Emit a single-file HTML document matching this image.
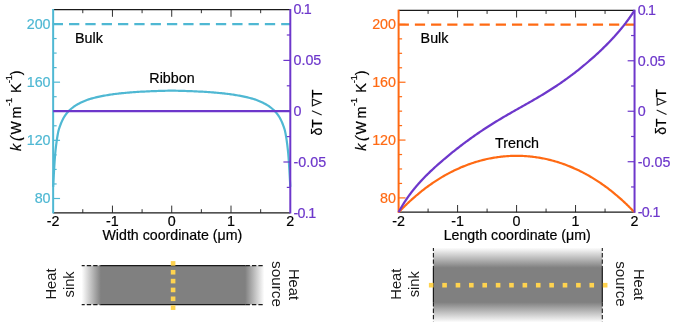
<!DOCTYPE html>
<html><head><meta charset="utf-8"><title>Figure</title>
<style>
html,body{margin:0;padding:0;background:#fff;}
body{width:677px;height:327px;overflow:hidden;}
svg{display:block;will-change:transform;font-family:"Liberation Sans",sans-serif;}
text{stroke-width:0.2px;}
</style></head><body>
<svg width="677" height="327" viewBox="0 0 677 327">
<rect width="677" height="327" fill="#fff"/>
<defs><linearGradient id="gh" x1="0" x2="1" y1="0" y2="0"><stop offset="0" stop-color="#fff"/><stop offset="0.105" stop-color="#808080"/><stop offset="0.895" stop-color="#808080"/><stop offset="1" stop-color="#fff"/></linearGradient><linearGradient id="gv" x1="0" x2="0" y1="0" y2="1"><stop offset="0" stop-color="#fff"/><stop offset="0.27" stop-color="#808080"/><stop offset="0.73" stop-color="#808080"/><stop offset="1" stop-color="#fff"/></linearGradient></defs>
<rect x="81.7" y="265.6" width="182.6" height="39" fill="url(#gh)"/>
<line x1="100.6" y1="265.6" x2="245.6" y2="265.6" stroke="#1a1a1a" stroke-width="1.2"/>
<line x1="81.7" y1="265.6" x2="100.6" y2="265.6" stroke="#1a1a1a" stroke-width="1.1" stroke-dasharray="4.3 2.1" stroke-dashoffset="1.3"/>
<line x1="245.6" y1="265.6" x2="264.6" y2="265.6" stroke="#1a1a1a" stroke-width="1.1" stroke-dasharray="4.3 2.1"/>
<line x1="100.6" y1="304.6" x2="245.6" y2="304.6" stroke="#1a1a1a" stroke-width="1.2"/>
<line x1="81.7" y1="304.6" x2="100.6" y2="304.6" stroke="#1a1a1a" stroke-width="1.1" stroke-dasharray="4.3 2.1" stroke-dashoffset="1.3"/>
<line x1="245.6" y1="304.6" x2="264.6" y2="304.6" stroke="#1a1a1a" stroke-width="1.1" stroke-dasharray="4.3 2.1"/>
<rect x="170.8" y="261.10" width="4.6" height="4.6" fill="#ffd34f"/>
<rect x="170.8" y="269.95" width="4.6" height="4.6" fill="#ffd34f"/>
<rect x="170.8" y="278.80" width="4.6" height="4.6" fill="#ffd34f"/>
<rect x="170.8" y="287.65" width="4.6" height="4.6" fill="#ffd34f"/>
<rect x="170.8" y="296.50" width="4.6" height="4.6" fill="#ffd34f"/>
<rect x="170.8" y="305.35" width="4.6" height="4.6" fill="#ffd34f"/>
<rect x="433.4" y="247.5" width="168.9" height="75" fill="url(#gv)"/>
<line x1="433.4" y1="268.1" x2="433.4" y2="302.2" stroke="#1a1a1a" stroke-width="1.2"/>
<line x1="433.4" y1="248" x2="433.4" y2="268.1" stroke="#1a1a1a" stroke-width="1.1" stroke-dasharray="4.3 2.1" stroke-dashoffset="1.3"/>
<line x1="433.4" y1="302.2" x2="433.4" y2="321.8" stroke="#1a1a1a" stroke-width="1.1" stroke-dasharray="4.3 2.1"/>
<line x1="602.3" y1="268.1" x2="602.3" y2="302.2" stroke="#1a1a1a" stroke-width="1.2"/>
<line x1="602.3" y1="248" x2="602.3" y2="268.1" stroke="#1a1a1a" stroke-width="1.1" stroke-dasharray="4.3 2.1" stroke-dashoffset="1.3"/>
<line x1="602.3" y1="302.2" x2="602.3" y2="321.8" stroke="#1a1a1a" stroke-width="1.1" stroke-dasharray="4.3 2.1"/>
<rect x="428.90" y="282.9" width="4.6" height="4.6" fill="#ffd34f"/>
<rect x="442.28" y="282.9" width="4.6" height="4.6" fill="#ffd34f"/>
<rect x="455.66" y="282.9" width="4.6" height="4.6" fill="#ffd34f"/>
<rect x="469.04" y="282.9" width="4.6" height="4.6" fill="#ffd34f"/>
<rect x="482.42" y="282.9" width="4.6" height="4.6" fill="#ffd34f"/>
<rect x="495.80" y="282.9" width="4.6" height="4.6" fill="#ffd34f"/>
<rect x="509.18" y="282.9" width="4.6" height="4.6" fill="#ffd34f"/>
<rect x="522.56" y="282.9" width="4.6" height="4.6" fill="#ffd34f"/>
<rect x="535.94" y="282.9" width="4.6" height="4.6" fill="#ffd34f"/>
<rect x="549.32" y="282.9" width="4.6" height="4.6" fill="#ffd34f"/>
<rect x="562.70" y="282.9" width="4.6" height="4.6" fill="#ffd34f"/>
<rect x="576.08" y="282.9" width="4.6" height="4.6" fill="#ffd34f"/>
<rect x="589.46" y="282.9" width="4.6" height="4.6" fill="#ffd34f"/>
<rect x="602.84" y="282.9" width="4.6" height="4.6" fill="#ffd34f"/>
<text transform="translate(56.0,284) rotate(-90)" text-anchor="middle" fill="#1a1a1a" font-size="14" textLength="31" lengthAdjust="spacingAndGlyphs">Heat</text>
<text transform="translate(73.6,284.4) rotate(-90)" text-anchor="middle" fill="#1a1a1a" font-size="14" textLength="26" lengthAdjust="spacingAndGlyphs">sink</text>
<text transform="translate(272.2,284) rotate(90)" text-anchor="middle" fill="#1a1a1a" font-size="14" textLength="46" lengthAdjust="spacingAndGlyphs">source</text>
<text transform="translate(288.6,284.5) rotate(90)" text-anchor="middle" fill="#1a1a1a" font-size="14" textLength="31" lengthAdjust="spacingAndGlyphs">Heat</text>
<text transform="translate(401.2,284.2) rotate(-90)" text-anchor="middle" fill="#1a1a1a" font-size="14" textLength="31" lengthAdjust="spacingAndGlyphs">Heat</text>
<text transform="translate(418.8,284.3) rotate(-90)" text-anchor="middle" fill="#1a1a1a" font-size="14" textLength="26" lengthAdjust="spacingAndGlyphs">sink</text>
<text transform="translate(616.2,284) rotate(90)" text-anchor="middle" fill="#1a1a1a" font-size="14" textLength="45.4" lengthAdjust="spacingAndGlyphs">source</text>
<text transform="translate(634.2,284.5) rotate(90)" text-anchor="middle" fill="#1a1a1a" font-size="14" textLength="31" lengthAdjust="spacingAndGlyphs">Heat</text>
<line x1="53.15" y1="9.6" x2="290.3" y2="9.6" stroke="#1a1a1a" stroke-width="1.3"/>
<line x1="53.15" y1="212.8" x2="290.3" y2="212.8" stroke="#1a1a1a" stroke-width="1.3"/>
<line x1="82.79" y1="9.6" x2="82.79" y2="13.2" stroke="#1a1a1a" stroke-width="0.9"/>
<line x1="82.79" y1="212.8" x2="82.79" y2="209.20000000000002" stroke="#1a1a1a" stroke-width="0.9"/>
<line x1="112.44" y1="9.6" x2="112.44" y2="16.8" stroke="#1a1a1a" stroke-width="0.9"/>
<line x1="112.44" y1="212.8" x2="112.44" y2="205.60000000000002" stroke="#1a1a1a" stroke-width="0.9"/>
<line x1="142.08" y1="9.6" x2="142.08" y2="13.2" stroke="#1a1a1a" stroke-width="0.9"/>
<line x1="142.08" y1="212.8" x2="142.08" y2="209.20000000000002" stroke="#1a1a1a" stroke-width="0.9"/>
<line x1="171.72" y1="9.6" x2="171.72" y2="16.8" stroke="#1a1a1a" stroke-width="0.9"/>
<line x1="171.72" y1="212.8" x2="171.72" y2="205.60000000000002" stroke="#1a1a1a" stroke-width="0.9"/>
<line x1="201.37" y1="9.6" x2="201.37" y2="13.2" stroke="#1a1a1a" stroke-width="0.9"/>
<line x1="201.37" y1="212.8" x2="201.37" y2="209.20000000000002" stroke="#1a1a1a" stroke-width="0.9"/>
<line x1="231.01" y1="9.6" x2="231.01" y2="16.8" stroke="#1a1a1a" stroke-width="0.9"/>
<line x1="231.01" y1="212.8" x2="231.01" y2="205.60000000000002" stroke="#1a1a1a" stroke-width="0.9"/>
<line x1="260.66" y1="9.6" x2="260.66" y2="13.2" stroke="#1a1a1a" stroke-width="0.9"/>
<line x1="260.66" y1="212.8" x2="260.66" y2="209.20000000000002" stroke="#1a1a1a" stroke-width="0.9"/>
<line x1="53.15" y1="9.0" x2="53.15" y2="213.4" stroke="#4fb8d3" stroke-width="2"/>
<line x1="53.15" y1="198.50" x2="60.05" y2="198.50" stroke="#4fb8d3" stroke-width="1.2"/>
<line x1="53.15" y1="183.96" x2="56.65" y2="183.96" stroke="#4fb8d3" stroke-width="1.2"/>
<line x1="53.15" y1="169.42" x2="56.65" y2="169.42" stroke="#4fb8d3" stroke-width="1.2"/>
<line x1="53.15" y1="154.88" x2="56.65" y2="154.88" stroke="#4fb8d3" stroke-width="1.2"/>
<line x1="53.15" y1="140.33" x2="60.05" y2="140.33" stroke="#4fb8d3" stroke-width="1.2"/>
<line x1="53.15" y1="125.79" x2="56.65" y2="125.79" stroke="#4fb8d3" stroke-width="1.2"/>
<line x1="53.15" y1="111.25" x2="56.65" y2="111.25" stroke="#4fb8d3" stroke-width="1.2"/>
<line x1="53.15" y1="96.71" x2="56.65" y2="96.71" stroke="#4fb8d3" stroke-width="1.2"/>
<line x1="53.15" y1="82.17" x2="60.05" y2="82.17" stroke="#4fb8d3" stroke-width="1.2"/>
<line x1="53.15" y1="67.62" x2="56.65" y2="67.62" stroke="#4fb8d3" stroke-width="1.2"/>
<line x1="53.15" y1="53.08" x2="56.65" y2="53.08" stroke="#4fb8d3" stroke-width="1.2"/>
<line x1="53.15" y1="38.54" x2="56.65" y2="38.54" stroke="#4fb8d3" stroke-width="1.2"/>
<line x1="53.15" y1="24.00" x2="60.05" y2="24.00" stroke="#4fb8d3" stroke-width="1.2"/>
<line x1="52.699999999999996" y1="24.15" x2="290.3" y2="24.15" stroke="#4fb8d3" stroke-width="2.35" stroke-dasharray="10.3 6.02"/>
<polyline points="53.15,186.87 53.45,181.28 53.74,175.85 54.04,170.64 54.34,165.73 54.63,161.19 54.93,157.09 55.23,153.50 55.52,150.51 55.82,147.91 56.11,145.44 56.41,143.11 56.71,140.92 57.00,138.87 57.30,136.97 57.60,135.21 57.89,133.60 58.19,132.15 58.49,130.84 58.78,129.69 59.08,128.70 59.38,127.80 59.67,126.93 59.97,126.10 60.26,125.29 60.56,124.51 60.86,123.75 61.15,123.02 61.45,122.32 61.75,121.65 62.04,120.99 62.34,120.37 62.64,119.76 62.93,119.18 63.23,118.61 63.53,118.07 63.82,117.55 64.12,117.05 64.41,116.56 64.71,116.09 65.01,115.64 65.30,115.21 65.60,114.79 65.90,114.38 66.19,113.99 66.49,113.61 66.79,113.24 67.08,112.89 67.38,112.54 67.68,112.21 67.97,111.88 68.27,111.56 68.56,111.25 68.86,110.95 69.16,110.65 69.45,110.36 69.75,110.07 70.05,109.79 70.34,109.52 70.64,109.25 70.94,108.99 71.23,108.73 71.53,108.48 71.83,108.23 72.12,107.99 72.42,107.75 72.71,107.52 73.01,107.29 73.31,107.07 73.60,106.85 73.90,106.64 74.20,106.43 74.49,106.22 74.79,106.02 75.09,105.82 75.38,105.63 75.68,105.44 75.98,105.25 76.27,105.07 76.57,104.89 76.86,104.71 78.05,104.04 79.24,103.41 80.42,102.81 81.61,102.25 82.79,101.71 83.98,101.19 85.17,100.71 86.35,100.24 87.54,99.81 88.72,99.40 89.91,99.02 91.09,98.66 92.28,98.32 93.47,98.02 94.65,97.73 95.84,97.44 97.02,97.17 98.21,96.90 99.39,96.64 100.58,96.39 101.77,96.15 102.95,95.92 104.14,95.69 105.32,95.47 106.51,95.26 107.69,95.06 108.88,94.87 110.07,94.68 111.25,94.50 112.44,94.33 113.62,94.17 114.81,94.01 115.99,93.86 117.18,93.72 118.37,93.59 119.55,93.46 120.74,93.33 121.92,93.21 123.11,93.09 124.29,92.97 125.48,92.85 126.67,92.74 127.85,92.64 129.04,92.53 130.22,92.43 131.41,92.34 132.60,92.24 133.78,92.16 134.97,92.07 136.15,91.99 137.34,91.91 138.52,91.84 139.71,91.77 140.90,91.71 142.08,91.65 143.27,91.59 144.45,91.54 145.64,91.48 146.82,91.43 148.01,91.37 149.20,91.32 150.38,91.27 151.57,91.22 152.75,91.17 153.94,91.12 155.12,91.07 156.31,91.03 157.50,90.99 158.68,90.95 159.87,90.91 161.05,90.87 162.24,90.84 163.42,90.81 164.61,90.78 165.80,90.75 166.98,90.73 168.17,90.71 169.35,90.70 170.54,90.68 171.72,90.67 172.91,90.68 174.10,90.70 175.28,90.71 176.47,90.73 177.65,90.75 178.84,90.78 180.03,90.81 181.21,90.84 182.40,90.87 183.58,90.91 184.77,90.95 185.95,90.99 187.14,91.03 188.33,91.07 189.51,91.12 190.70,91.17 191.88,91.22 193.07,91.27 194.25,91.32 195.44,91.37 196.63,91.43 197.81,91.48 199.00,91.54 200.18,91.59 201.37,91.65 202.55,91.71 203.74,91.77 204.93,91.84 206.11,91.91 207.30,91.99 208.48,92.07 209.67,92.16 210.85,92.24 212.04,92.34 213.23,92.43 214.41,92.53 215.60,92.64 216.78,92.74 217.97,92.85 219.16,92.97 220.34,93.09 221.53,93.21 222.71,93.33 223.90,93.46 225.08,93.59 226.27,93.72 227.46,93.86 228.64,94.01 229.83,94.17 231.01,94.33 232.20,94.50 233.38,94.68 234.57,94.87 235.76,95.06 236.94,95.26 238.13,95.47 239.31,95.69 240.50,95.92 241.68,96.15 242.87,96.39 244.06,96.64 245.24,96.90 246.43,97.17 247.61,97.44 248.80,97.73 249.98,98.02 251.17,98.32 252.36,98.66 253.54,99.02 254.73,99.40 255.91,99.81 257.10,100.24 258.28,100.71 259.47,101.19 260.66,101.71 261.84,102.25 263.03,102.81 264.21,103.41 265.40,104.04 266.58,104.71 266.88,104.89 267.18,105.07 267.47,105.25 267.77,105.44 268.07,105.63 268.36,105.82 268.66,106.02 268.96,106.22 269.25,106.43 269.55,106.64 269.85,106.85 270.14,107.07 270.44,107.29 270.74,107.52 271.03,107.75 271.33,107.99 271.62,108.23 271.92,108.48 272.22,108.73 272.51,108.99 272.81,109.25 273.11,109.52 273.40,109.79 273.70,110.07 274.00,110.36 274.29,110.65 274.59,110.95 274.89,111.25 275.18,111.56 275.48,111.88 275.77,112.21 276.07,112.54 276.37,112.89 276.66,113.24 276.96,113.61 277.26,113.99 277.55,114.38 277.85,114.79 278.15,115.21 278.44,115.64 278.74,116.09 279.04,116.56 279.33,117.05 279.63,117.55 279.92,118.07 280.22,118.61 280.52,119.18 280.81,119.76 281.11,120.37 281.41,120.99 281.70,121.65 282.00,122.32 282.30,123.02 282.59,123.75 282.89,124.51 283.19,125.29 283.48,126.10 283.78,126.93 284.07,127.80 284.37,128.70 284.67,129.69 284.96,130.84 285.26,132.15 285.56,133.60 285.85,135.21 286.15,136.97 286.45,138.87 286.74,140.92 287.04,143.11 287.34,145.44 287.63,147.91 287.93,150.51 288.22,153.50 288.52,157.09 288.82,161.19 289.11,165.73 289.41,170.64 289.71,175.85 290.00,181.28 290.30,186.87" fill="none" stroke="#4fb8d3" stroke-width="2.2" stroke-linejoin="round"/>
<line x1="53.15" y1="111.2" x2="290.3" y2="111.2" stroke="#6d37cb" stroke-width="2.3"/>
<line x1="290.3" y1="9.0" x2="290.3" y2="213.4" stroke="#6d37cb" stroke-width="2"/>
<line x1="290.3" y1="187.40" x2="286.8" y2="187.40" stroke="#6d37cb" stroke-width="1.2"/>
<line x1="290.3" y1="162.00" x2="283.40000000000003" y2="162.00" stroke="#6d37cb" stroke-width="1.2"/>
<line x1="290.3" y1="136.60" x2="286.8" y2="136.60" stroke="#6d37cb" stroke-width="1.2"/>
<line x1="290.3" y1="111.20" x2="283.40000000000003" y2="111.20" stroke="#6d37cb" stroke-width="1.2"/>
<line x1="290.3" y1="85.80" x2="286.8" y2="85.80" stroke="#6d37cb" stroke-width="1.2"/>
<line x1="290.3" y1="60.40" x2="283.40000000000003" y2="60.40" stroke="#6d37cb" stroke-width="1.2"/>
<line x1="290.3" y1="35.00" x2="286.8" y2="35.00" stroke="#6d37cb" stroke-width="1.2"/>
<text x="50.55" y="203.30" text-anchor="end" fill="#4fb8d3" stroke="#4fb8d3" font-size="14.3">80</text>
<text x="50.55" y="145.13" text-anchor="end" fill="#4fb8d3" stroke="#4fb8d3" font-size="14.3">120</text>
<text x="50.55" y="86.97" text-anchor="end" fill="#4fb8d3" stroke="#4fb8d3" font-size="14.3">160</text>
<text x="50.55" y="28.80" text-anchor="end" fill="#4fb8d3" stroke="#4fb8d3" font-size="14.3">200</text>
<text x="293.5" y="14.40" fill="#6d37cb" stroke="#6d37cb" font-size="14.3" textLength="18.1">0.1</text>
<text x="293.5" y="65.20" fill="#6d37cb" stroke="#6d37cb" font-size="14.3">0.05</text>
<text x="293.5" y="116.00" fill="#6d37cb" stroke="#6d37cb" font-size="14.3">0</text>
<text x="293.5" y="166.80" fill="#6d37cb" stroke="#6d37cb" font-size="14.3">-0.05</text>
<text x="293.5" y="217.60" fill="#6d37cb" stroke="#6d37cb" font-size="14.3" textLength="22.6">-0.1</text>
<text x="53.15" y="226.3" text-anchor="middle" fill="#000" stroke="#000" font-size="14.3">-2</text>
<text x="112.44" y="226.3" text-anchor="middle" fill="#000" stroke="#000" font-size="14.3">-1</text>
<text x="171.72" y="226.3" text-anchor="middle" fill="#000" stroke="#000" font-size="14.3">0</text>
<text x="231.01" y="226.3" text-anchor="middle" fill="#000" stroke="#000" font-size="14.3">1</text>
<text x="290.30" y="226.3" text-anchor="middle" fill="#000" stroke="#000" font-size="14.3">2</text>
<line x1="398.6" y1="10.3" x2="634.55" y2="10.3" stroke="#1a1a1a" stroke-width="1.3"/>
<line x1="398.6" y1="212.2" x2="634.55" y2="212.2" stroke="#1a1a1a" stroke-width="1.3"/>
<line x1="428.09" y1="10.3" x2="428.09" y2="13.9" stroke="#1a1a1a" stroke-width="0.9"/>
<line x1="428.09" y1="212.2" x2="428.09" y2="208.6" stroke="#1a1a1a" stroke-width="0.9"/>
<line x1="457.59" y1="10.3" x2="457.59" y2="17.5" stroke="#1a1a1a" stroke-width="0.9"/>
<line x1="457.59" y1="212.2" x2="457.59" y2="205.0" stroke="#1a1a1a" stroke-width="0.9"/>
<line x1="487.08" y1="10.3" x2="487.08" y2="13.9" stroke="#1a1a1a" stroke-width="0.9"/>
<line x1="487.08" y1="212.2" x2="487.08" y2="208.6" stroke="#1a1a1a" stroke-width="0.9"/>
<line x1="516.58" y1="10.3" x2="516.58" y2="17.5" stroke="#1a1a1a" stroke-width="0.9"/>
<line x1="516.58" y1="212.2" x2="516.58" y2="205.0" stroke="#1a1a1a" stroke-width="0.9"/>
<line x1="546.07" y1="10.3" x2="546.07" y2="13.9" stroke="#1a1a1a" stroke-width="0.9"/>
<line x1="546.07" y1="212.2" x2="546.07" y2="208.6" stroke="#1a1a1a" stroke-width="0.9"/>
<line x1="575.56" y1="10.3" x2="575.56" y2="17.5" stroke="#1a1a1a" stroke-width="0.9"/>
<line x1="575.56" y1="212.2" x2="575.56" y2="205.0" stroke="#1a1a1a" stroke-width="0.9"/>
<line x1="605.06" y1="10.3" x2="605.06" y2="13.9" stroke="#1a1a1a" stroke-width="0.9"/>
<line x1="605.06" y1="212.2" x2="605.06" y2="208.6" stroke="#1a1a1a" stroke-width="0.9"/>
<line x1="398.6" y1="9.700000000000001" x2="398.6" y2="212.79999999999998" stroke="#ff6a13" stroke-width="2"/>
<line x1="398.6" y1="197.90" x2="405.5" y2="197.90" stroke="#ff6a13" stroke-width="1.2"/>
<line x1="398.6" y1="183.44" x2="402.1" y2="183.44" stroke="#ff6a13" stroke-width="1.2"/>
<line x1="398.6" y1="168.98" x2="402.1" y2="168.98" stroke="#ff6a13" stroke-width="1.2"/>
<line x1="398.6" y1="154.53" x2="402.1" y2="154.53" stroke="#ff6a13" stroke-width="1.2"/>
<line x1="398.6" y1="140.07" x2="405.5" y2="140.07" stroke="#ff6a13" stroke-width="1.2"/>
<line x1="398.6" y1="125.61" x2="402.1" y2="125.61" stroke="#ff6a13" stroke-width="1.2"/>
<line x1="398.6" y1="111.15" x2="402.1" y2="111.15" stroke="#ff6a13" stroke-width="1.2"/>
<line x1="398.6" y1="96.69" x2="402.1" y2="96.69" stroke="#ff6a13" stroke-width="1.2"/>
<line x1="398.6" y1="82.23" x2="405.5" y2="82.23" stroke="#ff6a13" stroke-width="1.2"/>
<line x1="398.6" y1="67.78" x2="402.1" y2="67.78" stroke="#ff6a13" stroke-width="1.2"/>
<line x1="398.6" y1="53.32" x2="402.1" y2="53.32" stroke="#ff6a13" stroke-width="1.2"/>
<line x1="398.6" y1="38.86" x2="402.1" y2="38.86" stroke="#ff6a13" stroke-width="1.2"/>
<line x1="398.6" y1="24.40" x2="405.5" y2="24.40" stroke="#ff6a13" stroke-width="1.2"/>
<line x1="398.70000000000005" y1="24.549999999999997" x2="634.55" y2="24.549999999999997" stroke="#ff6a13" stroke-width="2.35" stroke-dasharray="10.2 5.98"/>
<polyline points="398.60,212.36 398.89,212.05 399.19,211.74 399.48,211.43 399.78,211.12 400.07,210.82 400.37,210.51 400.66,210.21 400.96,209.90 401.25,209.60 401.55,209.30 401.84,209.00 402.14,208.70 402.43,208.40 402.73,208.11 403.02,207.81 403.32,207.52 403.61,207.22 403.91,206.93 404.20,206.64 404.50,206.35 404.79,206.06 405.09,205.77 405.38,205.48 405.68,205.19 405.97,204.91 406.27,204.62 406.56,204.34 406.86,204.06 407.15,203.78 407.45,203.50 407.74,203.22 408.04,202.94 408.33,202.66 408.63,202.38 408.92,202.11 409.22,201.83 409.51,201.56 409.81,201.29 410.10,201.02 410.40,200.75 410.69,200.48 410.99,200.21 411.28,199.94 411.58,199.67 411.87,199.41 412.17,199.14 412.46,198.88 412.76,198.62 413.05,198.36 413.35,198.10 413.64,197.84 413.94,197.58 414.23,197.32 414.53,197.06 414.82,196.81 415.12,196.55 415.41,196.30 415.71,196.04 416.00,195.79 416.30,195.54 416.59,195.29 416.89,195.04 417.18,194.79 417.48,194.55 417.77,194.30 418.07,194.05 418.36,193.81 418.66,193.56 418.95,193.32 419.25,193.08 419.54,192.84 419.84,192.60 420.13,192.36 420.43,192.12 420.72,191.88 421.02,191.65 421.31,191.41 421.61,191.18 421.90,190.95 422.19,190.71 423.37,189.79 424.55,188.88 425.73,187.99 426.91,187.11 428.09,186.25 429.27,185.40 430.45,184.56 431.63,183.74 432.81,182.93 433.99,182.13 435.17,181.35 436.35,180.58 437.53,179.82 438.71,179.08 439.89,178.35 441.07,177.64 442.25,176.93 443.43,176.24 444.61,175.56 445.79,174.90 446.97,174.25 448.15,173.60 449.33,172.98 450.51,172.36 451.69,171.76 452.87,171.17 454.05,170.59 455.23,170.02 456.41,169.47 457.59,168.92 458.77,168.39 459.95,167.87 461.13,167.36 462.31,166.87 463.49,166.38 464.67,165.91 465.85,165.45 467.03,165.00 468.21,164.56 469.38,164.13 470.56,163.71 471.74,163.31 472.92,162.92 474.10,162.53 475.28,162.16 476.46,161.80 477.64,161.45 478.82,161.11 480.00,160.78 481.18,160.46 482.36,160.16 483.54,159.86 484.72,159.58 485.90,159.30 487.08,159.04 488.26,158.78 489.44,158.54 490.62,158.31 491.80,158.09 492.98,157.88 494.16,157.68 495.34,157.49 496.52,157.31 497.70,157.14 498.88,156.98 500.06,156.83 501.24,156.69 502.42,156.56 503.60,156.44 504.78,156.34 505.96,156.24 507.14,156.15 508.32,156.08 509.50,156.01 510.68,155.95 511.86,155.91 513.04,155.87 514.22,155.85 515.40,155.83 516.58,155.83 517.75,155.83 518.93,155.85 520.11,155.87 521.29,155.91 522.47,155.95 523.65,156.01 524.83,156.08 526.01,156.15 527.19,156.24 528.37,156.34 529.55,156.44 530.73,156.56 531.91,156.69 533.09,156.83 534.27,156.98 535.45,157.14 536.63,157.31 537.81,157.49 538.99,157.68 540.17,157.88 541.35,158.09 542.53,158.31 543.71,158.54 544.89,158.78 546.07,159.04 547.25,159.30 548.43,159.58 549.61,159.86 550.79,160.16 551.97,160.46 553.15,160.78 554.33,161.11 555.51,161.45 556.69,161.80 557.87,162.16 559.05,162.53 560.23,162.92 561.41,163.31 562.59,163.71 563.76,164.13 564.94,164.56 566.12,165.00 567.30,165.45 568.48,165.91 569.66,166.38 570.84,166.87 572.02,167.36 573.20,167.87 574.38,168.39 575.56,168.92 576.74,169.47 577.92,170.02 579.10,170.59 580.28,171.17 581.46,171.76 582.64,172.36 583.82,172.98 585.00,173.60 586.18,174.25 587.36,174.90 588.54,175.56 589.72,176.24 590.90,176.93 592.08,177.64 593.26,178.35 594.44,179.08 595.62,179.82 596.80,180.58 597.98,181.35 599.16,182.13 600.34,182.93 601.52,183.74 602.70,184.56 603.88,185.40 605.06,186.25 606.24,187.11 607.42,187.99 608.60,188.88 609.78,189.79 610.95,190.71 611.25,190.95 611.54,191.18 611.84,191.41 612.13,191.65 612.43,191.88 612.72,192.12 613.02,192.36 613.31,192.60 613.61,192.84 613.90,193.08 614.20,193.32 614.49,193.56 614.79,193.81 615.08,194.05 615.38,194.30 615.67,194.55 615.97,194.79 616.26,195.04 616.56,195.29 616.85,195.54 617.15,195.79 617.44,196.04 617.74,196.30 618.03,196.55 618.33,196.81 618.62,197.06 618.92,197.32 619.21,197.58 619.51,197.84 619.80,198.10 620.10,198.36 620.39,198.62 620.69,198.88 620.98,199.14 621.28,199.41 621.57,199.67 621.87,199.94 622.16,200.21 622.46,200.48 622.75,200.75 623.05,201.02 623.34,201.29 623.64,201.56 623.93,201.83 624.23,202.11 624.52,202.38 624.82,202.66 625.11,202.94 625.41,203.22 625.70,203.50 626.00,203.78 626.29,204.06 626.59,204.34 626.88,204.62 627.18,204.91 627.47,205.19 627.77,205.48 628.06,205.77 628.36,206.06 628.65,206.35 628.95,206.64 629.24,206.93 629.54,207.22 629.83,207.52 630.13,207.81 630.42,208.11 630.72,208.40 631.01,208.70 631.31,209.00 631.60,209.30 631.90,209.60 632.19,209.90 632.49,210.21 632.78,210.51 633.08,210.82 633.37,211.12 633.67,211.43 633.96,211.74 634.26,212.05 634.55,212.36" fill="none" stroke="#ff6a13" stroke-width="2.2" stroke-linejoin="round"/>
<polyline points="398.60,212.20 398.89,211.65 399.19,211.12 399.48,210.58 399.78,210.06 400.07,209.53 400.37,209.01 400.66,208.50 400.96,207.99 401.25,207.48 401.55,206.98 401.84,206.49 402.14,206.00 402.43,205.51 402.73,205.02 403.02,204.54 403.32,204.07 403.61,203.60 403.91,203.13 404.20,202.67 404.50,202.21 404.79,201.75 405.09,201.30 405.38,200.85 405.68,200.40 405.97,199.96 406.27,199.52 406.56,199.09 406.86,198.65 407.15,198.22 407.45,197.80 407.74,197.38 408.04,196.96 408.33,196.54 408.63,196.13 408.92,195.72 409.22,195.31 409.51,194.91 409.81,194.51 410.10,194.11 410.40,193.71 410.69,193.32 410.99,192.93 411.28,192.54 411.58,192.16 411.87,191.78 412.17,191.40 412.46,191.02 412.76,190.64 413.05,190.27 413.35,189.90 413.64,189.53 413.94,189.17 414.23,188.80 414.53,188.44 414.82,188.08 415.12,187.73 415.41,187.37 415.71,187.02 416.00,186.67 416.30,186.32 416.59,185.98 416.89,185.63 417.18,185.29 417.48,184.95 417.77,184.61 418.07,184.27 418.36,183.94 418.66,183.60 418.95,183.27 419.25,182.94 419.54,182.61 419.84,182.29 420.13,181.96 420.43,181.64 420.72,181.32 421.02,181.00 421.31,180.68 421.61,180.36 421.90,180.05 422.19,179.73 423.37,178.49 424.55,177.27 425.73,176.06 426.91,174.88 428.09,173.72 429.27,172.57 430.45,171.43 431.63,170.32 432.81,169.21 433.99,168.12 435.17,167.04 436.35,165.97 437.53,164.91 438.71,163.87 439.89,162.83 441.07,161.80 442.25,160.78 443.43,159.77 444.61,158.77 445.79,157.78 446.97,156.79 448.15,155.81 449.33,154.84 450.51,153.88 451.69,152.92 452.87,151.97 454.05,151.03 455.23,150.09 456.41,149.16 457.59,148.24 458.77,147.32 459.95,146.41 461.13,145.51 462.31,144.61 463.49,143.72 464.67,142.83 465.85,141.95 467.03,141.08 468.21,140.22 469.38,139.36 470.56,138.50 471.74,137.66 472.92,136.82 474.10,135.98 475.28,135.16 476.46,134.33 477.64,133.52 478.82,132.71 480.00,131.91 481.18,131.11 482.36,130.33 483.54,129.54 484.72,128.77 485.90,127.99 487.08,127.23 488.26,126.47 489.44,125.72 490.62,124.97 491.80,124.23 492.98,123.49 494.16,122.76 495.34,122.03 496.52,121.31 497.70,120.60 498.88,119.88 500.06,119.18 501.24,118.47 502.42,117.77 503.60,117.08 504.78,116.39 505.96,115.70 507.14,115.02 508.32,114.34 509.50,113.66 510.68,112.98 511.86,112.31 513.04,111.64 514.22,110.97 515.40,110.30 516.58,109.63 517.75,108.96 518.93,108.30 520.11,107.63 521.29,106.97 522.47,106.30 523.65,105.64 524.83,104.97 526.01,104.30 527.19,103.63 528.37,102.96 529.55,102.29 530.73,101.62 531.91,100.94 533.09,100.26 534.27,99.58 535.45,98.89 536.63,98.20 537.81,97.51 538.99,96.81 540.17,96.11 541.35,95.40 542.53,94.69 543.71,93.98 544.89,93.26 546.07,92.53 547.25,91.80 548.43,91.06 549.61,90.31 550.79,89.56 551.97,88.81 553.15,88.04 554.33,87.27 555.51,86.50 556.69,85.71 557.87,84.92 559.05,84.12 560.23,83.32 561.41,82.50 562.59,81.68 563.76,80.85 564.94,80.01 566.12,79.17 567.30,78.31 568.48,77.45 569.66,76.58 570.84,75.70 572.02,74.82 573.20,73.92 574.38,73.02 575.56,72.11 576.74,71.19 577.92,70.26 579.10,69.32 580.28,68.37 581.46,67.42 582.64,66.45 583.82,65.48 585.00,64.49 586.18,63.50 587.36,62.50 588.54,61.49 589.72,60.47 590.90,59.44 592.08,58.40 593.26,57.35 594.44,56.29 595.62,55.22 596.80,54.14 597.98,53.05 599.16,51.95 600.34,50.83 601.52,49.71 602.70,48.57 603.88,47.42 605.06,46.26 606.24,45.08 607.42,43.89 608.60,42.68 609.78,41.46 610.95,40.22 611.25,39.91 611.54,39.60 611.84,39.28 612.13,38.97 612.43,38.65 612.72,38.33 613.02,38.01 613.31,37.69 613.61,37.37 613.90,37.05 614.20,36.73 614.49,36.40 614.79,36.08 615.08,35.75 615.38,35.42 615.67,35.09 615.97,34.76 616.26,34.43 616.56,34.09 616.85,33.76 617.15,33.42 617.44,33.09 617.74,32.75 618.03,32.41 618.33,32.06 618.62,31.72 618.92,31.38 619.21,31.03 619.51,30.68 619.80,30.33 620.10,29.98 620.39,29.63 620.69,29.27 620.98,28.92 621.28,28.56 621.57,28.20 621.87,27.84 622.16,27.48 622.46,27.11 622.75,26.75 623.05,26.38 623.34,26.01 623.64,25.64 623.93,25.26 624.23,24.89 624.52,24.51 624.82,24.13 625.11,23.75 625.41,23.37 625.70,22.98 626.00,22.59 626.29,22.20 626.59,21.81 626.88,21.42 627.18,21.02 627.47,20.62 627.77,20.22 628.06,19.82 628.36,19.41 628.65,19.01 628.95,18.60 629.24,18.18 629.54,17.77 629.83,17.35 630.13,16.93 630.42,16.51 630.72,16.08 631.01,15.66 631.31,15.22 631.60,14.79 631.90,14.36 632.19,13.92 632.49,13.47 632.78,13.03 633.08,12.58 633.37,12.13 633.67,11.68 633.96,11.22 634.26,10.76 634.55,10.30" fill="none" stroke="#6d37cb" stroke-width="2.25" stroke-linejoin="round"/>
<line x1="634.55" y1="9.700000000000001" x2="634.55" y2="212.79999999999998" stroke="#6d37cb" stroke-width="2"/>
<line x1="634.55" y1="186.96" x2="631.05" y2="186.96" stroke="#6d37cb" stroke-width="1.2"/>
<line x1="634.55" y1="161.72" x2="627.65" y2="161.72" stroke="#6d37cb" stroke-width="1.2"/>
<line x1="634.55" y1="136.49" x2="631.05" y2="136.49" stroke="#6d37cb" stroke-width="1.2"/>
<line x1="634.55" y1="111.25" x2="627.65" y2="111.25" stroke="#6d37cb" stroke-width="1.2"/>
<line x1="634.55" y1="86.01" x2="631.05" y2="86.01" stroke="#6d37cb" stroke-width="1.2"/>
<line x1="634.55" y1="60.77" x2="627.65" y2="60.77" stroke="#6d37cb" stroke-width="1.2"/>
<line x1="634.55" y1="35.54" x2="631.05" y2="35.54" stroke="#6d37cb" stroke-width="1.2"/>
<text x="396.0" y="202.70" text-anchor="end" fill="#ff6a13" stroke="#ff6a13" font-size="14.3">80</text>
<text x="396.0" y="144.87" text-anchor="end" fill="#ff6a13" stroke="#ff6a13" font-size="14.3">120</text>
<text x="396.0" y="87.03" text-anchor="end" fill="#ff6a13" stroke="#ff6a13" font-size="14.3">160</text>
<text x="396.0" y="29.20" text-anchor="end" fill="#ff6a13" stroke="#ff6a13" font-size="14.3">200</text>
<text x="637.75" y="15.10" fill="#6d37cb" stroke="#6d37cb" font-size="14.3" textLength="18.1">0.1</text>
<text x="637.75" y="65.58" fill="#6d37cb" stroke="#6d37cb" font-size="14.3">0.05</text>
<text x="637.75" y="116.05" fill="#6d37cb" stroke="#6d37cb" font-size="14.3">0</text>
<text x="637.75" y="166.53" fill="#6d37cb" stroke="#6d37cb" font-size="14.3">-0.05</text>
<text x="637.75" y="217.00" fill="#6d37cb" stroke="#6d37cb" font-size="14.3" textLength="22.6">-0.1</text>
<text x="398.60" y="226.3" text-anchor="middle" fill="#000" stroke="#000" font-size="14.3">-2</text>
<text x="457.59" y="226.3" text-anchor="middle" fill="#000" stroke="#000" font-size="14.3">-1</text>
<text x="516.58" y="226.3" text-anchor="middle" fill="#000" stroke="#000" font-size="14.3">0</text>
<text x="575.56" y="226.3" text-anchor="middle" fill="#000" stroke="#000" font-size="14.3">1</text>
<text x="634.55" y="226.3" text-anchor="middle" fill="#000" stroke="#000" font-size="14.3">2</text>
<text transform="translate(20.7,150.9) rotate(-90)" fill="#000" stroke="#000" font-size="14.4"><tspan x="0" font-style="italic">k</tspan><tspan x="9.8" font-style="italic">(</tspan><tspan x="16.4" font-size="14">W</tspan><tspan x="32.4">m</tspan><tspan x="44.8" font-size="9.2" dy="-9">-1</tspan><tspan x="58" dy="9">K</tspan><tspan x="67.6" font-size="9.2" dy="-9">-1</tspan><tspan x="75.6" dy="9">)</tspan></text>
<text transform="translate(365.5,150.8) rotate(-90)" fill="#000" stroke="#000" font-size="14.4"><tspan x="0" font-style="italic">k</tspan><tspan x="9.8" font-style="italic">(</tspan><tspan x="16.4" font-size="14">W</tspan><tspan x="32.4">m</tspan><tspan x="44.8" font-size="9.2" dy="-9">-1</tspan><tspan x="58" dy="9">K</tspan><tspan x="67.6" font-size="9.2" dy="-9">-1</tspan><tspan x="75.6" dy="9">)</tspan></text>
<g transform="translate(321.6,134.6) rotate(-90)"><text fill="#000" stroke="#000" font-size="14"><tspan x="-0.8">δ</tspan><tspan x="6.8">T</tspan><tspan x="36.5">T</tspan></text><line x1="19.5" y1="0.1" x2="23.9" y2="-9.7" stroke="#1a1a1a" stroke-width="1.15"/><polygon points="28.7,-9.2 35.5,-9.2 32.1,-0.9" fill="none" stroke="#1a1a1a" stroke-width="1.15" stroke-linejoin="miter"/></g>
<g transform="translate(666.4,133.9) rotate(-90)"><text fill="#000" stroke="#000" font-size="14"><tspan x="-0.8">δ</tspan><tspan x="6.8">T</tspan><tspan x="36.5">T</tspan></text><line x1="19.5" y1="0.1" x2="23.9" y2="-9.7" stroke="#1a1a1a" stroke-width="1.15"/><polygon points="28.7,-9.2 35.5,-9.2 32.1,-0.9" fill="none" stroke="#1a1a1a" stroke-width="1.15" stroke-linejoin="miter"/></g>
<text x="172.4" y="240.4" text-anchor="middle" fill="#000" stroke="#000" font-size="14.2">Width coordinate (μm)</text>
<text x="517.2" y="240.4" text-anchor="middle" fill="#000" stroke="#000" font-size="14.2">Length coordinate (μm)</text>
<text x="75" y="42.6" fill="#000" stroke="#000" font-size="14.3">Bulk</text>
<text x="420.6" y="42.6" fill="#000" stroke="#000" font-size="14.3">Bulk</text>
<text x="172" y="82.5" text-anchor="middle" fill="#000" stroke="#000" font-size="14.3">Ribbon</text>
<text x="517" y="148.4" text-anchor="middle" fill="#000" stroke="#000" font-size="14.3">Trench</text>
</svg>
</body></html>
